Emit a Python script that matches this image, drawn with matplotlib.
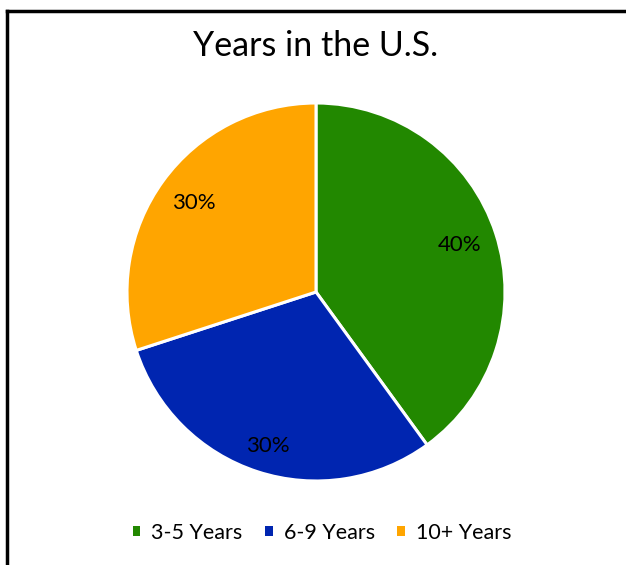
import matplotlib
matplotlib.use("Agg")
import matplotlib.pyplot as plt
from matplotlib.lines import Line2D
from matplotlib.patches import Patch

categories = ["3-5 Years", "6-9 Years", "10+ Years"]
values = [40, 30, 30]
colors = ["#228800", "#0025B0", "#FFA500"]
title = "Years in the U.S."

plt.rcParams['font.family'] = ['Lato', 'DejaVu Sans']

fig = plt.figure(figsize=(6.26, 5.65), dpi=100)
W, H = 626, 565

cx, cy, r = 316, 292, 189
ax = fig.add_axes([(cx - r) / W, 1 - (cy + r) / H, 2 * r / W, 2 * r / H])
wedges, texts, autotexts = ax.pie(
    values, colors=colors, startangle=90, counterclock=False,
    autopct=lambda p: f"{p:.0f}%", pctdistance=0.8,
    wedgeprops=dict(edgecolor="white", linewidth=2.2),
    textprops=dict(fontsize=16, color="black"))
ax.set_aspect("auto")
ax.set_xlim(-1, 1)
ax.set_ylim(-1, 1)
# nudge the blue label slightly outward like the reference
autotexts[1].set_position((autotexts[1].get_position()[0] * 1.03,
                           autotexts[1].get_position()[1] * 1.07))

fig.text(0.5 + 3 / W, 1 - 46 / H, title, ha="center", va="center", fontsize=24.5)

handles = [Patch(facecolor=c, edgecolor="none") for c in colors]
fig.legend(handles, categories, loc="center", bbox_to_anchor=(322 / W, 1 - 533 / H),
           ncol=3, frameon=False, fontsize=15.5, handlelength=0.36, handleheight=0.36,
           handletextpad=0.5, columnspacing=1.05)

# border lines (top and left)
fig.add_artist(Line2D([7 / W, 1.0], [1 - 11 / H, 1 - 11 / H], color="black", lw=2.5,
                      transform=fig.transFigure))
fig.add_artist(Line2D([7 / W, 7 / W], [1 - 11 / H, 1 - 563 / H], color="black", lw=2.5,
                      transform=fig.transFigure))

fig.savefig("out.png", dpi=100)
